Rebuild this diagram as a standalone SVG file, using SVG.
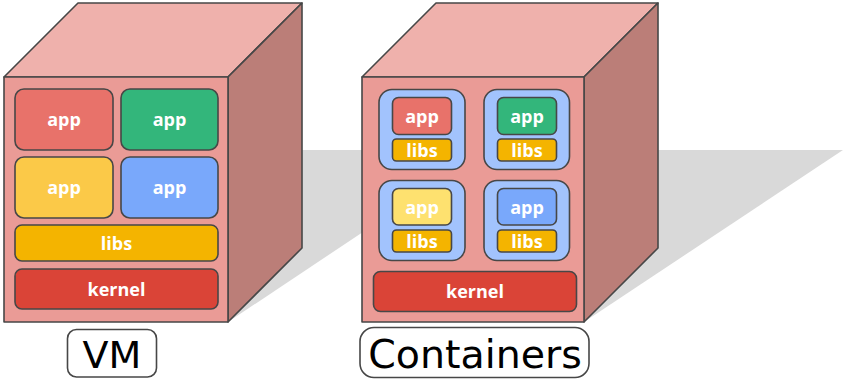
<svg xmlns="http://www.w3.org/2000/svg" width="843" height="380" viewBox="0 0 843 380">
  <style>
    .edge { stroke: #474747; stroke-width: 1.6; stroke-linejoin: round; }
    .top { fill: #efb1ac; }
    .front { fill: #ea9b96; }
    .side { fill: #bb7e78; }
    .shadow { fill: #d9d9d9; }
    .box { stroke: #474747; stroke-width: 1.6; }
    .red { fill: #e8726a; }
    .green { fill: #33b67b; }
    .yellow { fill: #fbc948; }
    .paleyellow { fill: #fee16f; }
    .blue { fill: #79a8fb; }
    .libs { fill: #f4b400; }
    .kernel { fill: #da4437; }
    .ctr { fill: #a2c3fd; }
    .lbl { fill: #ffffff; font-family: "Open Sans", "Noto Sans", sans-serif; font-weight: bold; font-size: 18px; text-anchor: middle; }
    .cap { fill: #ffffff; stroke: #474747; stroke-width: 1.6; }
    .title { fill: #000000; font-family: "DejaVu Sans", sans-serif; font-size: 38px; text-anchor: middle; }
  </style>

  <!-- cast shadows -->
  <polygon class="shadow" points="228,322 486,150 302,150"/>
  <polygon class="shadow" points="584,322 843,150 658,150"/>

  <!-- virtual machine cube -->
  <g id="vm">
    <polygon class="top edge" points="4,77 78,3 302,3 228,77"/>
    <polygon class="side edge" points="228,77 302,3 302,248 228,322"/>
    <rect class="front edge" x="4" y="77" width="224" height="245"/>
    <g id="vm-app-1">
      <rect class="box red" x="15" y="89" width="98" height="61" rx="9"/>
      <text class="lbl" x="64" y="126">app</text>
    </g>
    <g id="vm-app-2">
      <rect class="box green" x="121" y="89" width="97" height="61" rx="9"/>
      <text class="lbl" x="169.5" y="126">app</text>
    </g>
    <g id="vm-app-3">
      <rect class="box yellow" x="15" y="157" width="98" height="61" rx="9"/>
      <text class="lbl" x="64" y="194">app</text>
    </g>
    <g id="vm-app-4">
      <rect class="box blue" x="121" y="157" width="97" height="61" rx="9"/>
      <text class="lbl" x="169.5" y="194">app</text>
    </g>
    <g id="vm-libs">
      <rect class="box libs" x="15" y="225" width="203" height="36" rx="7"/>
      <text class="lbl" x="116.5" y="249.5">libs</text>
    </g>
    <g id="vm-kernel">
      <rect class="box kernel" x="15" y="269" width="203" height="40" rx="7"/>
      <text class="lbl" x="116.5" y="295.5">kernel</text>
    </g>
  </g>

  <!-- containers cube -->
  <g id="containers">
    <polygon class="top edge" points="362,77 436,3 658,3 584,77"/>
    <polygon class="side edge" points="584,77 658,3 658,248 584,322"/>
    <rect class="front edge" x="362" y="77" width="222" height="245"/>

    <g id="container-1">
      <rect class="box ctr" x="379" y="89.5" width="86" height="80" rx="13"/>
      <rect class="box red" x="392.5" y="97.5" width="59" height="37" rx="6"/>
      <text class="lbl" x="422" y="122.5">app</text>
      <rect class="box libs" x="392.5" y="139" width="59" height="22" rx="4"/>
      <text class="lbl" x="422" y="156.5">libs</text>
    </g>
    <g id="container-2">
      <rect class="box ctr" x="484" y="89.5" width="85.5" height="80" rx="13"/>
      <rect class="box green" x="497.5" y="97.5" width="59" height="37" rx="6"/>
      <text class="lbl" x="527" y="122.5">app</text>
      <rect class="box libs" x="497.5" y="139" width="59" height="22" rx="4"/>
      <text class="lbl" x="527" y="156.5">libs</text>
    </g>
    <g id="container-3">
      <rect class="box ctr" x="379" y="180.5" width="86" height="80" rx="13"/>
      <rect class="box paleyellow" x="392.5" y="188.5" width="59" height="36.5" rx="6"/>
      <text class="lbl" x="422" y="213.5">app</text>
      <rect class="box libs" x="392.5" y="230" width="59" height="22" rx="4"/>
      <text class="lbl" x="422" y="247.5">libs</text>
    </g>
    <g id="container-4">
      <rect class="box ctr" x="484" y="180.5" width="85.5" height="80" rx="13"/>
      <rect class="box blue" x="497.5" y="188.5" width="59" height="36.5" rx="6"/>
      <text class="lbl" x="527" y="213.5">app</text>
      <rect class="box libs" x="497.5" y="230" width="59" height="22" rx="4"/>
      <text class="lbl" x="527" y="247.5">libs</text>
    </g>
    <g id="ct-kernel">
      <rect class="box kernel" x="373.5" y="271.5" width="203" height="40" rx="7"/>
      <text class="lbl" x="475" y="298">kernel</text>
    </g>
  </g>

  <!-- captions -->
  <g id="caption-vm">
    <rect class="cap" x="67.5" y="329.5" width="89" height="47.5" rx="9"/>
    <text class="title" x="112" y="368">VM</text>
  </g>
  <g id="caption-containers">
    <rect class="cap" x="360" y="327.5" width="229" height="50" rx="14"/>
    <text class="title" x="475" y="368" style="font-size:39.5px">Containers</text>
  </g>
</svg>
